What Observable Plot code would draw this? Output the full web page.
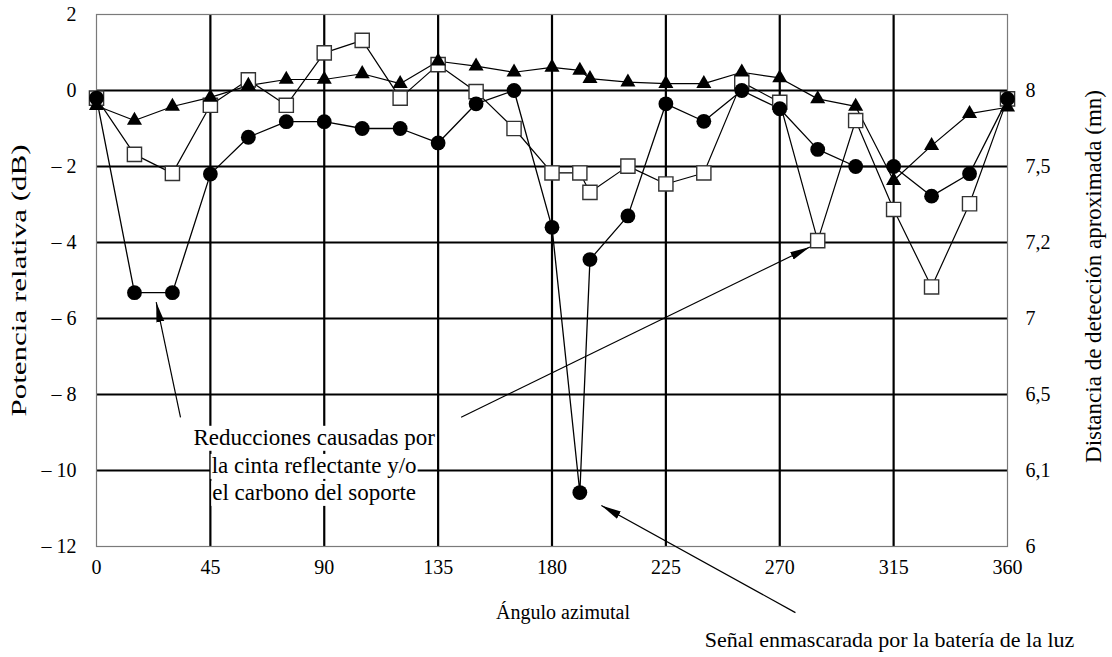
<!DOCTYPE html>
<html>
<head>
<meta charset="utf-8">
<script src="https://cdn.jsdelivr.net/npm/d3@7"></script>
<script src="https://cdn.jsdelivr.net/npm/@observablehq/plot@0.6"></script>
<style>
  html, body { margin: 0; padding: 0; background: #fff; }
  #chart { width: 1112px; height: 657px; }
</style>
</head>
<body>
<div id="chart"></div>
<script>
// ---- data ----
const angles = [0,15,30,45,60,75,90,105,120,135,150,165,180,191,195,210,225,240,255,270,285,300,315,330,345,360];
const circleSeries = [-0.2,-5.32,-5.32,-2.2,-1.23,-0.82,-0.82,-1.0,-1.0,-1.38,-0.35,0.0,-3.6,-10.58,-4.45,-3.3,-0.35,-0.81,0.0,-0.48,-1.55,-2.0,-2.0,-2.78,-2.19,-0.22];
const triangleSeries = [-0.4,-0.79,-0.42,-0.18,0.13,0.29,0.29,0.44,0.18,0.77,0.64,0.48,0.61,0.53,0.31,0.22,0.18,0.18,0.48,0.33,-0.22,-0.42,-2.37,-1.45,-0.61,-0.44];
const squareSeries = [-0.2,-1.68,-2.18,-0.39,0.28,-0.39,0.99,1.32,-0.2,0.68,-0.03,-1.0,-2.17,-2.17,-2.68,-1.99,-2.46,-2.17,0.22,-0.31,-3.95,-0.79,-3.13,-5.17,-2.98,-0.22];

const xTicks = [0,45,90,135,180,225,270,315,360];
const yTicks = [-12,-10,-8,-6,-4,-2,0,2];
const rightTicks = [-12,-10,-8,-6,-4,-2,0];
const rightTickLabels = ["6","6,1","6,5","7","7,2","7,5","8"];

const xLabel = "Ángulo azimutal";
const yLabelLeft = "Potencia relativa (dB)";
const yLabelRight = "Distancia de detección aproximada (mn)";

const noteLines = ["Reducciones causadas por", "la cinta reflectante y/o", "el carbono del soporte"];
const noteX = [86, 86, 86];
const noteY = [-9.13, -9.87, -10.58];

const maskNote = "Señal enmascarada por la batería de la luz";
const maskNoteX = 313.4;
const maskNoteY = -14.47;

const arrowX1 = [33.2, 144.1, 276.2];
const arrowY1 = [-8.6, -8.6, -13.74];
const arrowX2 = [23.6, 281.9, 199.5];
const arrowY2 = [-5.57, -4.12, -10.92];

// ---- build tables ----
const idx = angles.map((_, i) => i);
const rightMap = new Map(rightTicks.map((t, i) => [t, rightTickLabels[i]]));
const fmtLeft = d => d < 0 ? "\u2013 " + Math.abs(d) : String(d);

const plot = Plot.plot({
  width: 1112,
  height: 657,
  marginTop: 14,
  marginLeft: 96,
  marginRight: 105,
  marginBottom: 111,
  style: {fontFamily: "'Liberation Serif', 'Times New Roman', serif", fontSize: "20px", background: "#fff", color: "#000"},
  x: {domain: [0, 360]},
  y: {domain: [-12, 2]},
  marks: [
    Plot.gridX({ticks: xTicks.slice(1, -1), stroke: "#000", strokeOpacity: 1, strokeWidth: 2.2}),
    Plot.gridY({ticks: yTicks.slice(1, -1), stroke: "#000", strokeOpacity: 1, strokeWidth: 2.2}),
    Plot.frame({stroke: "#7a7a7a", strokeWidth: 1.2}),
    Plot.axisX({ticks: xTicks, tickSize: 0, tickPadding: 13, label: null, fontSize: 20}),
    Plot.axisY({ticks: yTicks, anchor: "left", tickSize: 0, tickPadding: 20, tickFormat: fmtLeft, label: null, fontSize: 20}),
    Plot.axisY({ticks: rightTicks, anchor: "right", tickSize: 0, tickPadding: 18, tickFormat: d => rightMap.get(d) ?? "", label: null, fontSize: 20}),
    Plot.text([xLabel], {frameAnchor: "bottom", dy: 66, dx: 11, text: d => d, fontSize: 20, textAnchor: "middle", lineAnchor: "middle"}),
    Plot.text([yLabelLeft], {frameAnchor: "left", dx: -78, rotate: -90, text: d => d, fontSize: 22, textAnchor: "middle", lineAnchor: "middle", className: "ylab-left"}),
    Plot.text([yLabelRight], {frameAnchor: "right", dx: 86, dy: -4, rotate: -90, text: d => d, fontSize: 23, textAnchor: "middle", lineAnchor: "middle"}),
    // annotation text with white backgrounds (added after render)
    Plot.text(noteLines.map((_, i) => i), {x: i => noteX[i], y: i => noteY[i], text: i => noteLines[i], fontSize: 23, className: "note-box"}),
    Plot.text([maskNote], {x: () => maskNoteX, y: () => maskNoteY, text: d => d, fontSize: 22}),
    // series lines
    Plot.line(idx, {x: i => angles[i], y: i => squareSeries[i], stroke: "#000", strokeWidth: 1.2}),
    Plot.line(idx, {x: i => angles[i], y: i => triangleSeries[i], stroke: "#000", strokeWidth: 1.2}),
    Plot.line(idx, {x: i => angles[i], y: i => circleSeries[i], stroke: "#000", strokeWidth: 1.3}),
    // markers
    Plot.dot(idx, {x: i => angles[i], y: i => squareSeries[i], symbol: "square", r: 8, fill: "#fff", stroke: "#333", strokeWidth: 1.4}),
    Plot.dot(idx, {x: i => angles[i], y: i => triangleSeries[i], symbol: "triangle", r: 5.6, fill: "#000", stroke: "none"}),
    Plot.dot(idx, {x: i => angles[i], y: i => circleSeries[i], symbol: "circle", r: 7.4, fill: "#000", stroke: "none"}),
    // arrows
    Plot.link(arrowX1.map((_, i) => i), {x1: i => arrowX1[i], y1: i => arrowY1[i], x2: i => arrowX2[i], y2: i => arrowY2[i], stroke: "#000", strokeWidth: 1.2, markerEnd: "arrow"})
  ]
});

document.getElementById("chart").appendChild(plot);

const ns = "http://www.w3.org/2000/svg";

// stretched left axis title, as in the reference
plot.querySelectorAll("g.ylab-left text").forEach(t => {
  t.setAttribute("textLength", "272");
  t.setAttribute("lengthAdjust", "spacingAndGlyphs");
});

// white backgrounds behind annotation text lines
plot.querySelectorAll("g.note-box text").forEach(t => {
  const b = t.getBBox();
  const r = document.createElementNS(ns, "rect");
  r.setAttribute("x", b.x - 1);
  r.setAttribute("y", b.y + 1);
  r.setAttribute("width", b.width + 2);
  r.setAttribute("height", b.height);
  r.setAttribute("fill", "#fff");
  const tr = t.getAttribute("transform");
  if (tr) r.setAttribute("transform", tr);
  t.parentNode.insertBefore(r, t);
});

// filled arrowheads
plot.querySelectorAll("marker").forEach(m => {
  m.setAttribute("viewBox", "0 -5 20 10");
  m.setAttribute("refX", "20");
  m.setAttribute("refY", "0");
  m.setAttribute("markerWidth", "20");
  m.setAttribute("markerHeight", "10");
  m.setAttribute("markerUnits", "userSpaceOnUse");
  m.setAttribute("orient", "auto");
  m.removeAttribute("stroke");
  m.setAttribute("fill", "#000");
  while (m.firstChild) m.removeChild(m.firstChild);
  const p = document.createElementNS(ns, "path");
  p.setAttribute("d", "M0,-4 L20,0 L0,4 Z");
  p.setAttribute("fill", "#000");
  p.setAttribute("stroke", "none");
  m.appendChild(p);
});
</script>
</body>
</html>
